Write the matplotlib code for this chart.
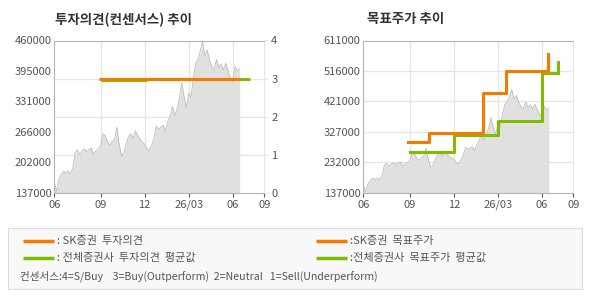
import matplotlib
matplotlib.use('Agg')
import matplotlib.pyplot as plt
import numpy as np

plt.rcParams['font.family'] = ['Noto Sans CJK KR', 'DejaVu Sans']

# x axis in months since 2025-06 (ticks are not perfectly even on the source chart)
tick_pos = [0, 3.18, 6.16, 9.16, 12.16, 14.32]
tick_labels = ['06', '09', '12', '26/03', '06', '09']

# close price, thousands of won, evenly spaced from 06 to mid-July
price = [158, 140, 165, 176, 182, 178, 183, 176, 190, 222, 228, 218, 226, 230, 224, 229,
         232, 218, 226, 230, 236, 262, 258, 244, 238, 246, 250, 276, 240, 215, 222, 240,
         256, 262, 252, 268, 258, 250, 244, 240, 230, 226, 238, 252, 278, 272, 276, 280,
         268, 288, 300, 320, 300, 316, 338, 370, 340, 318, 348, 340, 380, 412, 420, 438,
         458, 428, 440, 418, 405, 398, 420, 402, 410, 398, 412, 395, 380, 372, 405, 395, 400]
price_end = 12.64

# investment opinion (right axis 0-4)
sk_op_x = [3.07, 12.64]
sk_op_y = [3.0, 3.0]
avg_op_x = [3.18, 6.25, 6.25, 13.34]
avg_op_y = [2.95, 2.95, 3.0, 3.0]

# target price steps: change points and values
sk_tp_x = [3.07, 4.48, 8.14, 9.73, 12.57]
sk_tp_y = [295000, 322000, 446000, 517000, 568000]
avg_tp_x = [3.18, 6.16, 9.18, 12.18, 13.27]
avg_tp_y = [262000, 318000, 359000, 509000, 543000]

left_ticks = [137000, 202000, 266000, 331000, 395000, 460000]
right_ticks = [137000, 232000, 327000, 421000, 516000, 611000]

ORANGE = '#F57A00'
GREEN = '#80BC00'
FILL = '#E0E0E0'
EDGE = '#BDBDBD'
GRID = '#E6E6E6'
SPINE = '#B4B4B4'
TXT = '#555555'

px = np.linspace(0, price_end, len(price))
pv = np.array(price) * 1000


def base_axes(ax, yticks):
    ax.set_xlim(0, tick_pos[-1])
    ax.set_ylim(yticks[0], yticks[-1])
    ax.set_xticks(tick_pos)
    ax.set_xticklabels(tick_labels)
    ax.set_yticks(yticks)
    ax.set_yticklabels([str(v) for v in yticks])
    ax.tick_params(labelsize=8, colors=TXT, length=3, width=0.8, pad=2)
    ax.tick_params(axis='y', length=0)
    for s in ['left', 'bottom', 'top']:
        ax.spines[s].set_color(SPINE)
    ax.spines['right'].set_color(GRID)
    for t in tick_pos[1:-1]:
        ax.axvline(t, color=GRID, lw=1, zorder=0)
    ax.fill_between(px, yticks[0], pv, color=FILL, lw=0, zorder=1)
    ax.plot(px, pv, color=EDGE, lw=0.6, zorder=2)


fig = plt.figure(figsize=(5.9, 3.0), dpi=100)

# left: opinion chart
ax1 = fig.add_axes([0.092, 0.358, 0.356, 0.507])
base_axes(ax1, left_ticks)
ax1b = ax1.twinx()
ax1b.set_ylim(0, 4)
ax1b.set_yticks([0, 1, 2, 3, 4])
ax1b.tick_params(labelsize=8, colors=TXT, length=3, pad=2)
ax1b.tick_params(axis='y', color=GRID)
for s in ax1b.spines.values():
    s.set_visible(False)
for v in [1, 2, 3]:
    ax1.axhline(left_ticks[0] + v / 4 * (left_ticks[-1] - left_ticks[0]), color=GRID, lw=1, zorder=0)
ax1b.plot(avg_op_x, avg_op_y, color=GREEN, lw=2.2, solid_capstyle='butt')
ax1b.plot(sk_op_x, sk_op_y, color=ORANGE, lw=2.2, solid_capstyle='butt')
fig.text(0.093, 0.935, '투자의견(컨센서스) 추이', fontsize=9.7, fontweight='bold', color='#333333', va='center')

# right: target price chart
ax2 = fig.add_axes([0.616, 0.358, 0.356, 0.507])
base_axes(ax2, right_ticks)
for v in right_ticks[1:-1]:
    ax2.axhline(v, color=GRID, lw=1, zorder=0)
ax2.step(avg_tp_x, avg_tp_y, where='post', color=GREEN, lw=2.2, zorder=3)
ax2.step(sk_tp_x, sk_tp_y, where='post', color=ORANGE, lw=2.2, zorder=4)
ax2.plot([sk_tp_x[-1]] * 2, [sk_tp_y[-2], sk_tp_y[-1]], color=ORANGE, lw=2.2, zorder=4)
ax2.plot([avg_tp_x[-1]] * 2, [avg_tp_y[-2], avg_tp_y[-1]], color=GREEN, lw=2.2, zorder=3)
fig.text(0.622, 0.935, '목표주가 추이', fontsize=9.7, fontweight='bold', color='#333333', va='center')

# legend box, coordinates in figure pixels
lg = fig.add_axes([0.014, 0.037, 0.972, 0.203])
lg.set_xlim(8.3, 581.8)
lg.set_ylim(11, 72)
lg.set_xticks([])
lg.set_yticks([])
lg.set_facecolor('#F8F8F8')
for s in lg.spines.values():
    s.set_color('#DDDDDD')
rows = [
    (23, 59.3, ORANGE, ': SK증권  투자의견'),
    (23, 41.7, GREEN, ': 전체증권사  투자의견  평균값'),
    (316, 59.3, ORANGE, ':SK증권  목표주가'),
    (316, 41.7, GREEN, ':전체증권사  목표주가  평균값'),
]
for x0, y0, c, label in rows:
    lg.plot([x0, x0 + 31], [y0, y0], color=c, lw=2.5, solid_capstyle='butt')
    lg.text(x0 + 34, y0, label, fontsize=8, color=TXT, va='center')
lg.text(20, 23.3, '컨센서스:4=S/Buy    3=Buy(Outperform)  2=Neutral   1=Sell(Underperform)',
        fontsize=7.6, color=TXT, va='center')

fig.savefig('out.png', dpi=100, facecolor='white')
